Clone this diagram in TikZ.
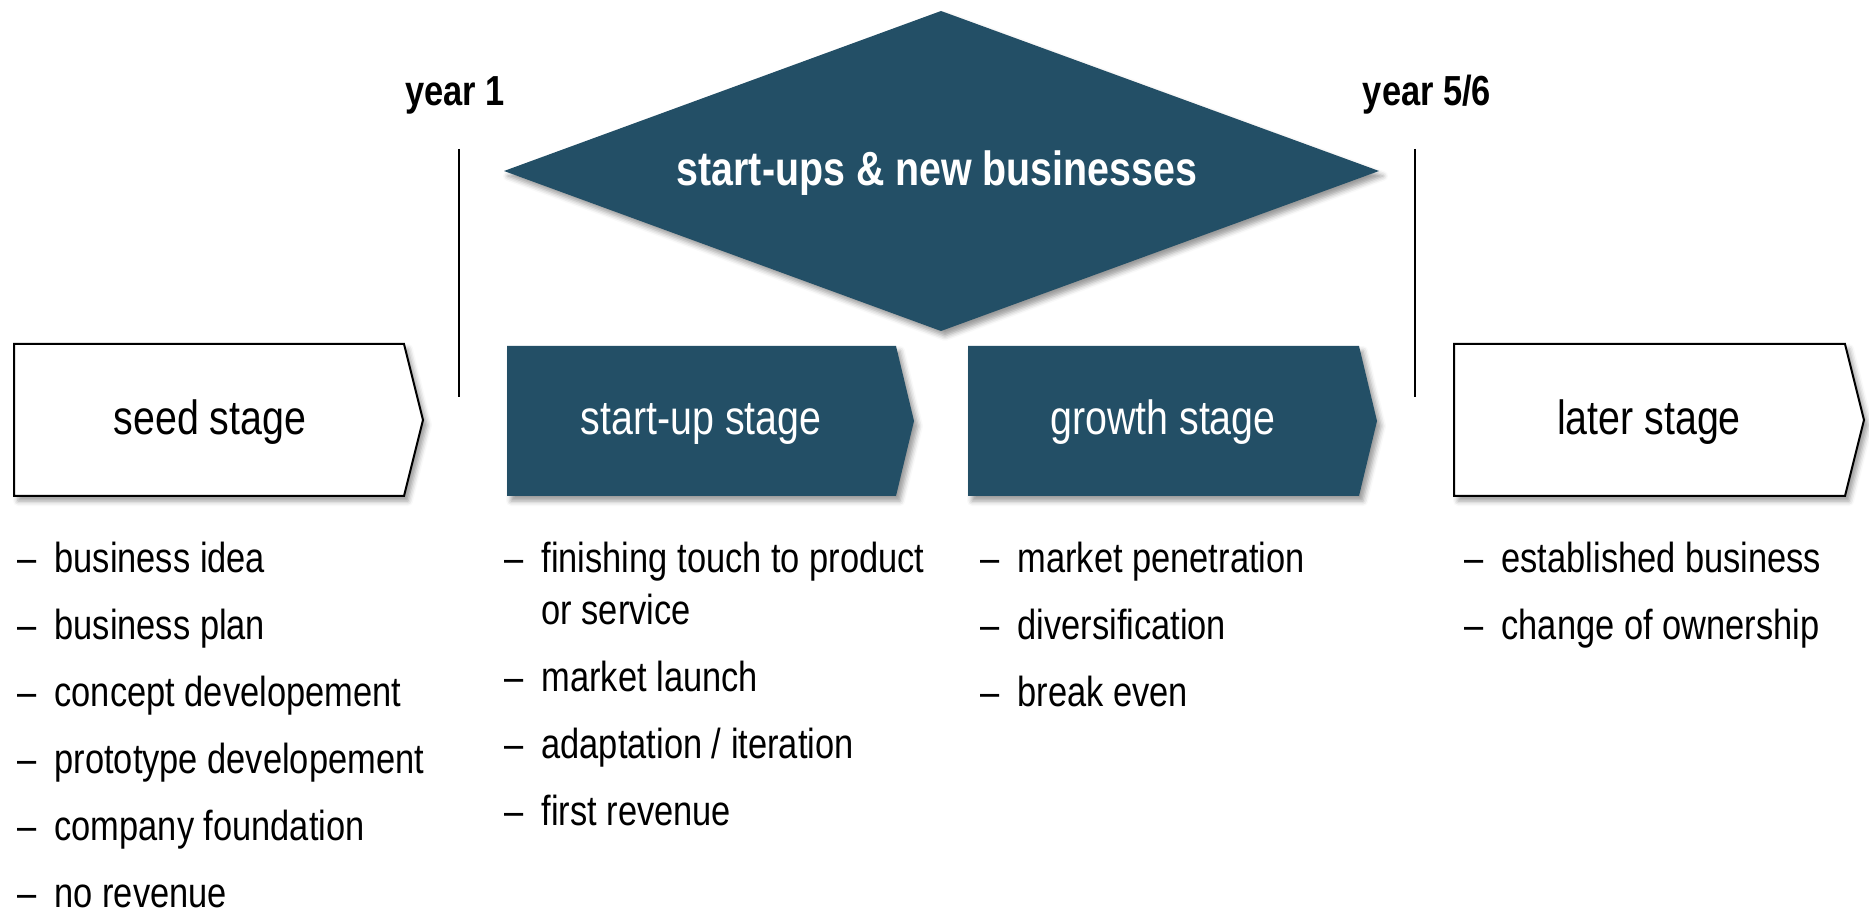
\documentclass[tikz,border=0pt]{standalone}
\usepackage{fontspec}
\setmainfont[FakeStretch=0.82]{Liberation Sans}
\usetikzlibrary{shadows.blur}
\definecolor{petrol}{RGB}{35,79,102}
\tikzset{
	soft/.style={blur shadow={shadow xshift=2pt,shadow yshift=-2.5pt,shadow blur radius=2.5pt,shadow opacity=40}},
	openbox/.style={draw=black,line width=1pt,fill=white,soft},
	fullbox/.style={fill=petrol,soft},
	stagetxt/.style={anchor=base,inner sep=0pt,font=\fontsize{24}{28}\selectfont},
	itemlist/.style={anchor=base west,inner sep=0pt,font=\fontsize{21}{25.75}\selectfont},
	yeartxt/.style={anchor=base,inner sep=0pt,font=\bfseries\fontsize{21}{25}\selectfont},
	yearline/.style={line width=1pt}
}
\newcommand{\bul}{\textendash}
\begin{document}
\begin{tikzpicture}[x=0.5pt,y=-0.5pt]
	\useasboundingbox (0,0) rectangle (1869,913);
	
	% diamond on top
	\path[fullbox] (504,171) -- (941,11) -- (1379,171) -- (941,331) -- cycle;
	\node[anchor=base,inner sep=0pt,text=white,font=\bfseries\fontsize{24}{28}\selectfont] (newbiz) at (937,186) {start-ups \& new businesses};
	
	% year marks
	\node[yeartxt] (yearone) at (455,106) {year 1};
	\node[yeartxt] (yearfive) at (1427,106) {year 5/6};
	\coordinate (onetop) at (459,149);
	\coordinate (onebot) at (459,397);
	\coordinate (fivetop) at (1415,149);
	\coordinate (fivebot) at (1415,397);
	\draw[yearline] (onetop) -- (onebot);
	\draw[yearline] (fivetop) -- (fivebot);
	
	% stages
	\path[openbox] (14,344) -- (404,344) -- (423,420) -- (404,496) -- (14,496) -- cycle;
	\path[fullbox] (507,346) -- (896,346) -- (914,421) -- (896,496) -- (507,496) -- cycle;
	\path[fullbox] (968,346) -- (1359,346) -- (1377,421) -- (1359,496) -- (968,496) -- cycle;
	\path[openbox] (1454,344) -- (1845,344) -- (1864,420) -- (1845,496) -- (1454,496) -- cycle;
	
	\node[stagetxt] (seed) at (210,435) {seed stage};
	\node[stagetxt,text=white] (startup) at (701,435) {start-up stage};
	\node[stagetxt,text=white] (growth) at (1163,435) {growth stage};
	\node[stagetxt] (later) at (1649,435) {later stage};
	
	% lists
	\node[itemlist] (seedlist) at (17,573) {\begin{tabular}[t]{@{}l@{\hspace{9pt}}l@{}}
		\bul & business idea\\[7.75pt]
		\bul & business plan\\[7.75pt]
		\bul & concept developement\\[7.75pt]
		\bul & prototype developement\\[7.75pt]
		\bul & company foundation\\[7.75pt]
		\bul & no revenue
	\end{tabular}};
	\node[itemlist] (startuplist) at (504,573) {\begin{tabular}[t]{@{}l@{\hspace{9pt}}l@{}}
		\bul & finishing touch to product\\
		 & or service\\[7.75pt]
		\bul & market launch\\[7.75pt]
		\bul & adaptation / iteration\\[7.75pt]
		\bul & first revenue
	\end{tabular}};
	\node[itemlist] (growthlist) at (980,573) {\begin{tabular}[t]{@{}l@{\hspace{9pt}}l@{}}
		\bul & market penetration\\[7.75pt]
		\bul & diversification\\[7.75pt]
		\bul & break even
	\end{tabular}};
	\node[itemlist] (laterlist) at (1464,573) {\begin{tabular}[t]{@{}l@{\hspace{9pt}}l@{}}
		\bul & established business\\[7.75pt]
		\bul & change of ownership
	\end{tabular}};
\end{tikzpicture}
\end{document}
